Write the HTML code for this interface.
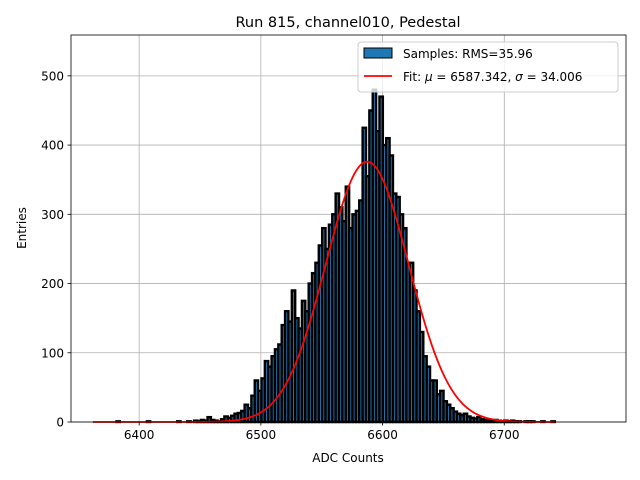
<!DOCTYPE html>
<html><head><meta charset="utf-8"><style>body{margin:0;background:#fff}svg{display:block}text{font-family:"DejaVu Sans","Liberation Sans",sans-serif}</style></head>
<body>
<svg id="chart" width="640" height="480" viewBox="0 0 640 480" xmlns="http://www.w3.org/2000/svg">
<rect width="640" height="480" fill="#fff"/>
<text x="348" y="27" font-size="14.5" text-anchor="middle">Run 815, channel010, Pedestal</text>
<g id="grid"></g><g id="bars"></g><g id="fit"></g><g id="axes"></g>
<text x="348" y="462" font-size="12" text-anchor="middle">ADC Counts</text>
<text x="26" y="228" font-size="12" text-anchor="middle" transform="rotate(-90 26 228)">Entries</text>
<g>
<rect x="358" y="42" width="260" height="50" rx="3" fill="#fff" fill-opacity="0.8" stroke="#ccc"/>
<rect x="364" y="48" width="28" height="10" fill="#1f77b4" stroke="#000"/>
<text x="403" y="58" font-size="12">Samples: RMS=35.96</text>
<line x1="364" y1="76" x2="392" y2="76" stroke="red" stroke-width="1.8"/>
<text x="403" y="81" font-size="12">Fit: <tspan font-style="italic">μ</tspan> = 6587.342, <tspan font-style="italic">σ</tspan> = 34.006</text>
</g>
</svg>
<script>
const binStart = 6362;
const binWidth = 2.77;
const counts = [0,0,0,0,0,0,0,1,0,0,0,0,0,0,0,0,1,0,0,0,0,0,0,0,0,1,0,0,
1,0,2,1,3,2,7,3,2,1,4,
8,6,9,12,13,16,25,20,38,60,
45,63,88,80,95,105,112,140,160,145,
190,150,135,175,160,200,215,230,255,280,
250,285,300,330,310,290,340,280,300,305,
320,425,355,450,480,420,470,400,410,385,
330,325,300,280,230,230,190,160,130,95,
80,60,60,40,45,30,25,20,15,12,
10,12,8,6,5,7,4,3,3,2,
3,2,1,2,1,2,1,1,0,1,1,1,0,0,1,0,0,1];
const fitMu = 6587.342;
const fitSigma = 34.006;
const fitAmp = 376;
const xTicks = [6400,6500,6600,6700];
const yTicks = [0,100,200,300,400,500];

const L=71,R=626,T=35,B=422;
const xMin=6344,xMax=6800,yMin=0,yMax=559;
const sx=v=>L+(v-xMin)/(xMax-xMin)*(R-L);
const sy=v=>B-(v-yMin)/(yMax-yMin)*(B-T);
const NS="http://www.w3.org/2000/svg";
function mk(tag,attrs,parent){const e=document.createElementNS(NS,tag);for(const k in attrs)e.setAttribute(k,attrs[k]);parent.appendChild(e);return e;}
const grid=document.getElementById('grid'),bars=document.getElementById('bars'),fit=document.getElementById('fit'),axes=document.getElementById('axes');
xTicks.forEach(t=>{const g=mk('line',{x1:sx(t),x2:sx(t),y1:T,y2:B,stroke:'#b0b0b0','stroke-width':0.8},grid);


const tk=mk('line',{x1:sx(t),x2:sx(t),y1:B,y2:B+3.5,stroke:'#000','stroke-width':0.8},axes);


const tx=mk('text',{x:sx(t),y:B+17,'font-size':12,'text-anchor':'middle'},axes);tx.textContent=t;

});
yTicks.forEach(t=>{const g=mk('line',{x1:L,x2:R,y1:sy(t),y2:sy(t),stroke:'#b0b0b0','stroke-width':0.8},grid);


const tk=mk('line',{x1:L-3.5,x2:L,y1:sy(t),y2:sy(t),stroke:'#000','stroke-width':0.8},axes);


const tx=mk('text',{x:L-7,y:sy(t)+4.5,'font-size':12,'text-anchor':'end'},axes);tx.textContent=t;

});
counts.forEach((c,i)=>{const x0=sx(binStart+i*binWidth),x1=sx(binStart+(i+1)*binWidth);
const r=mk('rect',{x:x0,y:sy(c),width:x1-x0,height:sy(0)-sy(c),fill:'#1f77b4',stroke:'#000','stroke-width':2.4},bars);

});
let d='';const x0=binStart,x1=binStart+binWidth*counts.length;
for(let k=0;k<=300;k++){const v=x0+(x1-x0)*k/300;const y=fitAmp*Math.exp(-0.5*((v-fitMu)/fitSigma)**2);d+=(k?'L':'M')+sx(v).toFixed(2)+','+sy(y).toFixed(2);}
const p=mk('path',{d:d,fill:'none',stroke:'red','stroke-width':1.8},fit);


const f=mk('rect',{x:L,y:T,width:R-L,height:B-T,fill:'none',stroke:'#000','stroke-width':0.8},axes);


</script>
</body></html>
